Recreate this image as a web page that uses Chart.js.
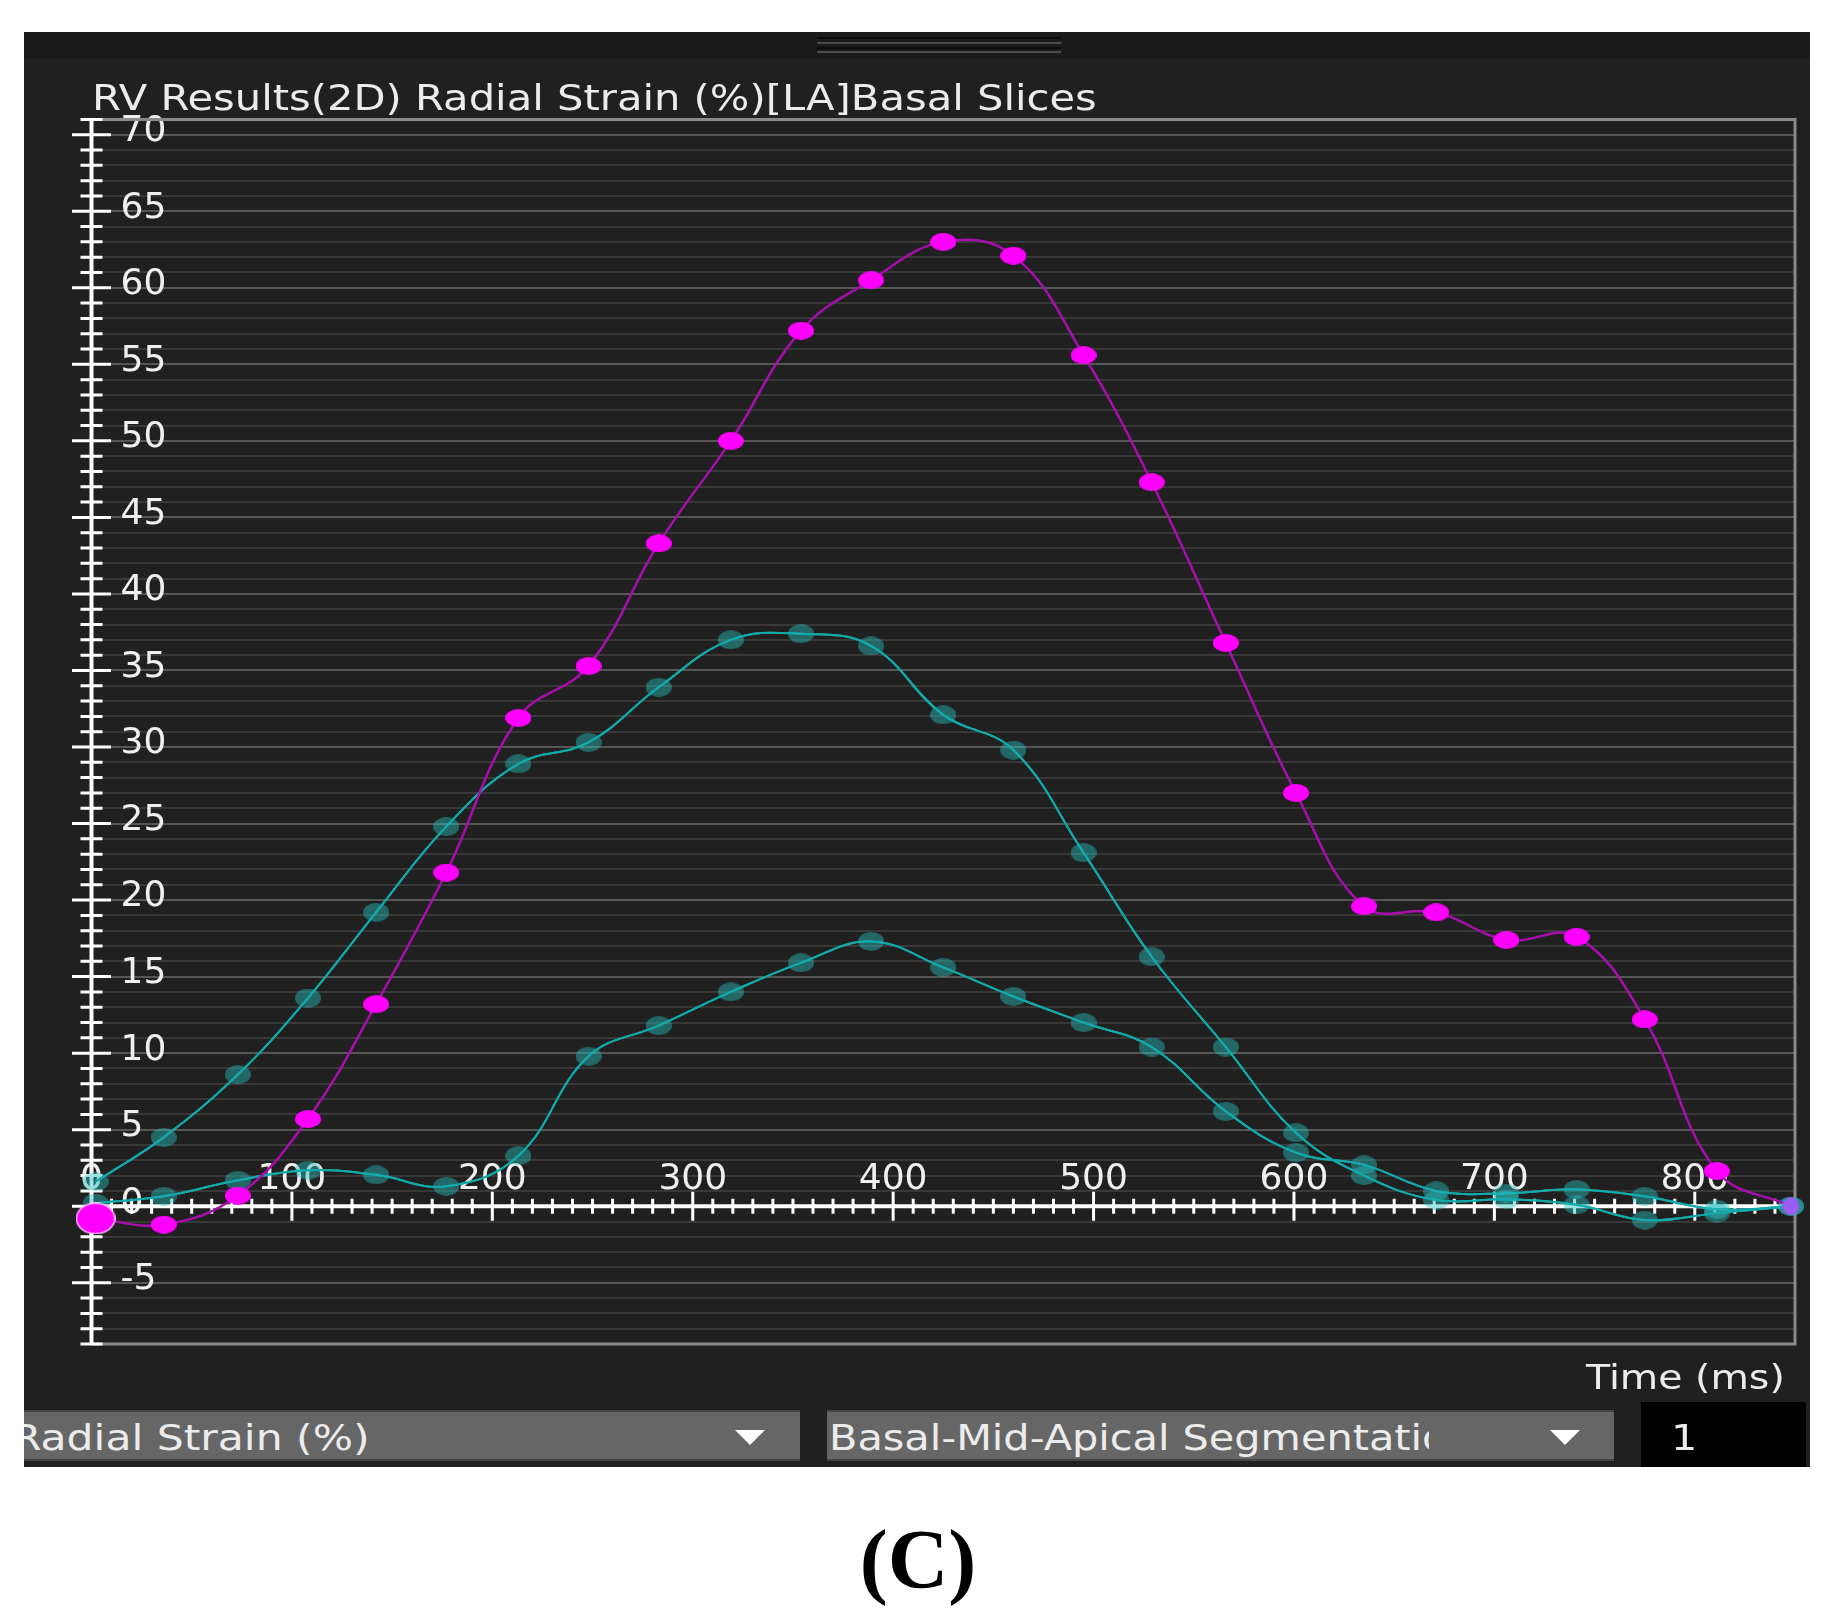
<!DOCTYPE html>
<html>
<head>
<meta charset="utf-8">
<title>RV Results(2D) Radial Strain</title>
<script src="https://cdn.jsdelivr.net/npm/chart.js@4.4.1/dist/chart.umd.min.js"></script>
<style>
  body { margin: 0; background: #ffffff; width: 1839px; height: 1614px; position: relative; overflow: hidden; font-family: "DejaVu Sans", sans-serif; }
  .box { position: absolute; }
  .txt { position: absolute; color: #ececec; white-space: nowrap; line-height: 1; transform-origin: 0 0; }
  .clip { position: absolute; overflow: hidden; }
  .arrow { position: absolute; width: 0; height: 0; border-left: 15px solid transparent; border-right: 15px solid transparent; border-top: 15px solid #ffffff; }
  #wrap { position: absolute; left: 0; top: 0; width: 1839px; height: 1614px; }
</style>
</head>
<body>
<div class="box" style="left:24px;top:32px;width:1786px;height:1435px;background:#202020"></div>
<div class="box" style="left:24px;top:32px;width:1786px;height:27px;background:#1b1b1b"></div>
<div class="box" style="left:817px;top:37px;width:244px;height:2px;background:#0c0c0c"></div>
<div class="box" style="left:817px;top:42px;width:244px;height:2px;background:#4c4c4c"></div>
<div class="box" style="left:817px;top:47px;width:244px;height:2px;background:#0c0c0c"></div>
<div class="box" style="left:817px;top:51px;width:244px;height:2px;background:#4c4c4c"></div>

<div id="wrap"><canvas id="strainChart"></canvas></div>

<div class="txt" style="left:92px;top:81px;font-size:35px;transform:scaleX(1.19)">RV Results(2D) Radial Strain (%)[LA]Basal Slices</div>
<div class="txt" style="left:1586px;top:1360px;font-size:34px;transform:scaleX(1.16)">Time (ms)</div>

<div class="box" style="left:24px;top:1410px;width:776px;height:51px;background:#666666;border-top:2px solid #454545;border-bottom:2px solid #454545;box-sizing:border-box"></div>
<div class="clip" style="left:24px;top:1412px;width:700px;height:48px">
  <div class="txt" style="left:-12px;top:8px;font-size:36px;transform:scaleX(1.18)">Radial Strain (%)</div>
</div>
<div class="arrow" style="left:735px;top:1430px"></div>

<div class="box" style="left:827px;top:1410px;width:787px;height:51px;background:#666666;border-top:2px solid #454545;border-bottom:2px solid #454545;box-sizing:border-box"></div>
<div class="clip" style="left:827px;top:1412px;width:602px;height:48px">
  <div class="txt" style="left:2px;top:8px;font-size:36px;transform:scaleX(1.15)">Basal-Mid-Apical Segmentation</div>
</div>
<div class="arrow" style="left:1550px;top:1430px"></div>

<div class="box" style="left:1641px;top:1402px;width:165px;height:65px;background:#000000"></div>
<div class="txt" style="left:1671px;top:1420px;font-size:36px;transform:scaleX(1.15)">1</div>

<div class="txt" style="left:768px;top:1518px;width:300px;text-align:center;color:#000000;font-family:'Liberation Serif',serif;font-weight:bold;font-size:84px;transform:none">(C)</div>

<script>
let timeMs = [2, 36, 73, 108, 142, 177, 213, 248, 283, 319, 354, 389, 425, 460, 495, 529, 566, 601, 635, 671, 706, 741, 775, 811, 848];
let strainMagenta = [-0.8, -1.2, 0.7, 5.7, 13.2, 21.8, 31.9, 35.3, 43.3, 50.0, 57.2, 60.5, 63.0, 62.1, 55.6, 47.3, 36.8, 27.0, 19.6, 19.2, 17.4, 17.6, 12.2, 2.3, 0];
let strainTealA = [1.6, 4.5, 8.6, 13.6, 19.2, 24.8, 28.9, 30.3, 33.9, 37.0, 37.4, 36.6, 32.1, 29.8, 23.1, 16.3, 10.4, 4.8, 2.0, 0.4, 0.45, 0.1, -0.9, -0.45, 0];
let strainTealB = [0.2, 0.65, 1.7, 2.35, 2.05, 1.3, 3.3, 9.8, 11.8, 14.0, 15.9, 17.3, 15.6, 13.7, 12.0, 10.4, 6.2, 3.5, 2.7, 1.0, 0.85, 1.1, 0.65, -0.2, 0];
let yLabelStep = 5;
let xLabelStep = 100;

function ellipseDot(w, h, fill, rim) {
    let c = document.createElement("canvas");
    c.width = w;
    c.height = h;
    let g = c.getContext("2d");
    if (rim) {
        g.fillStyle = rim;
        g.beginPath();
        g.ellipse(w / 2, h / 2, w / 2, h / 2, 0, 0, Math.PI * 2);
        g.fill();
    }
    g.fillStyle = fill;
    g.beginPath();
    g.ellipse(w / 2, h / 2, rim ? w / 2 - 1.5 : w / 2, rim ? h / 2 - 1.5 : h / 2, 0, 0, Math.PI * 2);
    g.fill();
    return c;
}

let magentaDot = ellipseDot(26, 18, "#ff00ff");
let startDot = ellipseDot(40, 32, "#ff00ff", "#ffc4ff");
let endDot = ellipseDot(17, 18, "#9b5cf2");
let tealDot = ellipseDot(26, 19, "rgba(40,190,190,0.45)");

function toPoints(values) {
    return values.map((v, i) => ({ x: timeMs[i], y: v }));
}

let crossAxes = {
    id: "crossAxes",
    beforeDatasetsDraw(chart) {
        let ctx = chart.ctx;
        let a = chart.chartArea;
        let xs = chart.scales.x;
        let ys = chart.scales.y;
        let x0 = xs.getPixelForValue(0);
        let y0 = ys.getPixelForValue(0);
        ctx.save();

        ctx.strokeStyle = "#8a8a8a";
        ctx.lineWidth = 3;
        ctx.beginPath();
        ctx.moveTo(x0, a.top);
        ctx.lineTo(a.right, a.top);
        ctx.lineTo(a.right, a.bottom);
        ctx.lineTo(x0, a.bottom);
        ctx.stroke();

        ctx.strokeStyle = "#ffffff";
        ctx.lineWidth = 4;
        ctx.beginPath();
        ctx.moveTo(x0, a.top);
        ctx.lineTo(x0, a.bottom);
        ctx.moveTo(x0, y0);
        ctx.lineTo(a.right, y0);
        ctx.stroke();

        ctx.lineWidth = 3;
        ctx.beginPath();
        for (let v = Math.ceil(ys.min); v <= ys.max; v++) {
            let py = ys.getPixelForValue(v);
            let h = v % yLabelStep === 0 ? 19.5 : 11;
            ctx.moveTo(x0 - h, py);
            ctx.lineTo(x0 + h, py);
        }
        for (let t = 10; t < xs.max; t += 10) {
            let px = xs.getPixelForValue(t);
            let h = t % xLabelStep === 0 ? 14.5 : 7.5;
            ctx.moveTo(px, y0 - h);
            ctx.lineTo(px, y0 + h);
        }
        ctx.stroke();

        ctx.fillStyle = "#f0f0f0";
        ctx.font = "36px 'DejaVu Sans'";
        ctx.textAlign = "center";
        ctx.textBaseline = "middle";
        xs.ticks.forEach(tk => {
            ctx.fillText(tk.label, xs.getPixelForValue(tk.value), y0 - 27);
        });
        ctx.restore();
    },
    afterDatasetDraw(chart, args) {
        if (args.index > 0 && args.meta.dataset) {
            args.meta.dataset.draw(chart.ctx, chart.chartArea);
        }
    }
};

Chart.defaults.font.family = "'DejaVu Sans'";

let ctx = document.getElementById("strainChart").getContext("2d");
let strainChart = new Chart(ctx, {
    type: "line",
    data: {
        datasets: [{
            label: "Basal",
            data: toPoints(strainMagenta),
            borderColor: "#a60fab",
            borderWidth: 2.5,
            tension: 0.4,
            clip: false,
            pointStyle: strainMagenta.map((v, i) => i === 0 ? startDot : (i === strainMagenta.length - 1 ? endDot : magentaDot))
        }, {
            label: "Segment A",
            data: toPoints(strainTealA),
            borderColor: "#12aaaa",
            borderWidth: 2,
            tension: 0.4,
            clip: false,
            pointStyle: tealDot
        }, {
            label: "Segment B",
            data: toPoints(strainTealB),
            borderColor: "#12aaaa",
            borderWidth: 2,
            tension: 0.4,
            clip: false,
            pointStyle: tealDot
        }]
    },
    options: {
        responsive: true,
        maintainAspectRatio: false,
        animation: false,
        events: [],
        layout: { padding: { left: 91.5, right: 44, top: 119.4, bottom: 270 } },
        plugins: {
            legend: { display: false },
            tooltip: { enabled: false }
        },
        scales: {
            x: {
                type: "linear",
                min: 0,
                max: 850,
                afterFit: s => { s.height = 0; },
                border: { display: false },
                grid: { display: false, drawTicks: false },
                ticks: { display: false, stepSize: xLabelStep, includeBounds: false, autoSkip: false }
            },
            y: {
                min: -9,
                max: 71,
                afterFit: s => { s.width = 0; },
                border: { display: false },
                grid: {
                    drawTicks: false,
                    lineWidth: 2,
                    color: c => c.tick && c.tick.value % yLabelStep === 0 ? "#565656" : "#383838"
                },
                ticks: {
                    stepSize: 1,
                    autoSkip: false,
                    mirror: true,
                    padding: 29,
                    labelOffset: -3,
                    color: "#f0f0f0",
                    font: { size: 36 },
                    callback: v => v % yLabelStep === 0 ? String(v) : ""
                }
            }
        }
    },
    plugins: [crossAxes]
});
</script>
</body>
</html>
